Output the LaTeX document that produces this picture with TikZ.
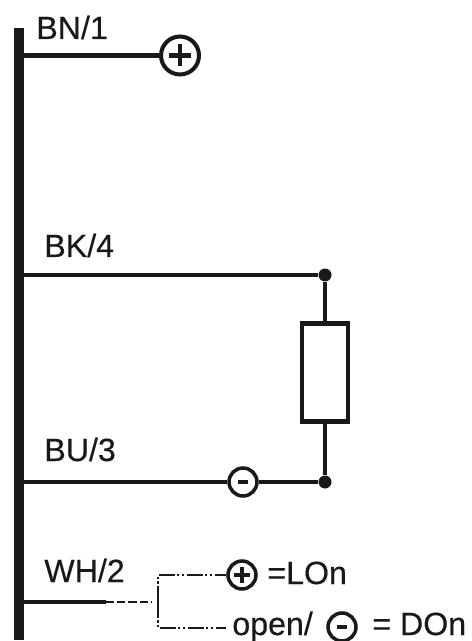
\documentclass[tikz,border=0pt]{standalone}
\usepackage{fontspec}
\setmainfont[FakeBold=0.35]{Liberation Sans}
\usepackage{tikz}
\usetikzlibrary{positioning,calc}
\definecolor{wirecolor}{RGB}{26, 24, 25}

\begin{document}
\begin{tikzpicture}[
    x=0.02cm, y=-0.02cm,
    wire/.style={line width=2.3pt, draw=wirecolor},
    thinwire/.style={line width=1pt, draw=wirecolor},
    dashwire/.style={thinwire, dash pattern=on 9pt off 1.5pt on 1.2pt off 1.5pt on 1.2pt off 1.5pt},
    term/.style={circle, draw=wirecolor, fill=white, line width=2pt, inner sep=0pt, minimum size=0.56cm},
    plusterm/.style={term, path picture={
        \draw[wirecolor, line width=2.2pt] ($(path picture bounding box.center)+(-8,0)$) -- ($(path picture bounding box.center)+(8,0)$);
        \draw[wirecolor, line width=2.2pt] ($(path picture bounding box.center)+(0,-8)$) -- ($(path picture bounding box.center)+(0,8)$);}},
    bigplusterm/.style={term, line width=2.3pt, minimum size=0.76cm, path picture={
        \draw[wirecolor, line width=2.4pt] ($(path picture bounding box.center)+(-11,0)$) -- ($(path picture bounding box.center)+(11,0)$);
        \draw[wirecolor, line width=2.4pt] ($(path picture bounding box.center)+(0,-11)$) -- ($(path picture bounding box.center)+(0,11)$);}},
    minusterm/.style={term, path picture={
        \draw[wirecolor, line width=1.9pt] ($(path picture bounding box.center)+(-5,0)$) -- ($(path picture bounding box.center)+(5,0)$);}},
    junction/.style={circle, fill=wirecolor, inner sep=0pt, minimum size=0.26cm},
    pinlabel/.style={text=wirecolor, font=\fontsize{18.3}{20}\selectfont, inner sep=0pt, anchor=base west}
]
    \useasboundingbox (0,0) rectangle (472,641);

    % Bus bar
    \node[rectangle, fill=wirecolor, inner sep=0pt, minimum width=0.2cm, minimum height=12.24cm] (bus) at (19,334) {};

    % Pin labels
    \node[pinlabel] (bn) at (36,39) {BN/1};
    \node[pinlabel] (bk) at (44,257) {BK/4};
    \node[pinlabel] (bu) at (44,461) {BU/3};
    \node[pinlabel] (wh) at (44,582) {WH/2};

    % Terminals
    \node[bigplusterm] (plus) at (180,55.5) {};
    \node[minusterm] (minus) at (243,482) {};
    \node[plusterm] (lon) at (242,575) {};
    \node[minusterm] (don) at (342,627) {};

    % Load
    \node[rectangle, draw=wirecolor, line width=2.3pt, minimum width=0.92cm, minimum height=1.96cm] (load) at (325,372.5) {};
    \node[junction] (top) at (325,275) {};
    \node[junction] (bot) at (325,482) {};

    % Output texts
    \node[pinlabel] (lontext) at (267,584) {=LOn};
    \node[pinlabel] (open) at (232,635) {open/};
    \node[pinlabel] (dontext) at (372,635) {= DOn};

    % Branch points of the switch
    \coordinate (wh0) at (24,602);
    \coordinate (wh1) at (106,602);
    \coordinate (wh2) at (152,602);
    \coordinate (sw) at (158,602);
    \coordinate (lon0) at (158,575);
    \coordinate (don0) at (158,628);
    \coordinate (don1) at (226,628);

    % Wires
    \draw[wire] (bus.east |- plus) -- (plus);
    \draw[wire] (bus.east |- top) -- (top);
    \draw[wire] (top) -- (load);
    \draw[wire] (load) -- (bot);
    \draw[wire] (bot) -- (minus);
    \draw[wire] (minus) -- (bus.east |- minus);
    \draw[wire] (wh0) -- (wh1);

    % Dashed part
    \draw[thinwire, dash pattern=on 4.6pt off 1.8pt] (wh1) -- (wh2);
    \draw[dashwire] (sw) -- (lon0) -- (lon);
    \draw[dashwire] (sw) -- (don0) -- (don1);
\end{tikzpicture}
\end{document}
